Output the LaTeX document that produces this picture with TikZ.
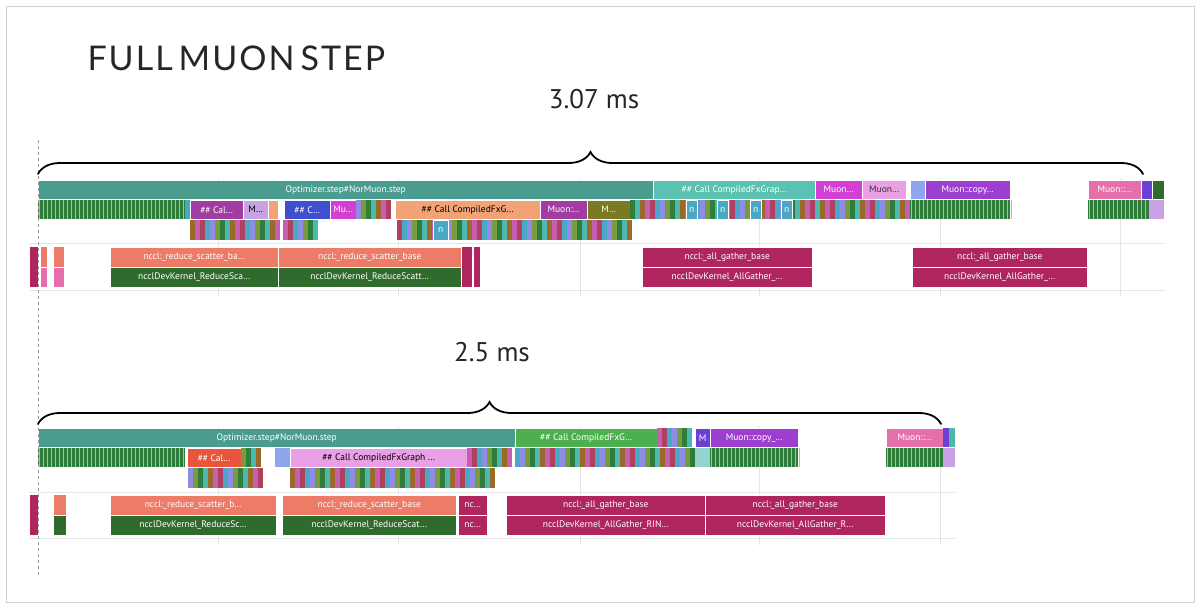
\documentclass[tikz,border=0pt]{standalone}
\usepackage{fontspec}
\setmainfont{PT Sans}
\newfontfamily\titlefont{Lato}
\usetikzlibrary{decorations.pathreplacing}
\definecolor{optc}{HTML}{4A9C8F}
\definecolor{tealc}{HTML}{5BC2B2}
\definecolor{magc}{HTML}{D33FD3}
\definecolor{lpink}{HTML}{E9A0E4}
\definecolor{purc}{HTML}{9C3FCE}
\definecolor{pinkc}{HTML}{E46FAA}
\definecolor{bluec}{HTML}{3F4FD0}
\definecolor{lpur}{HTML}{C8A2E2}
\definecolor{salc}{HTML}{F2A274}
\definecolor{olivc}{HTML}{7A7A22}
\definecolor{callp}{HTML}{A13CA3}
\definecolor{rsc}{HTML}{EE7A68}
\definecolor{dgc}{HTML}{2F6B2C}
\definecolor{crim}{HTML}{B1255E}
\definecolor{greenc}{HTML}{4DB04F}
\definecolor{redc}{HTML}{E8553A}
\definecolor{mpur}{HTML}{6B40D2}
\definecolor{lblue}{HTML}{8FA5EE}
\definecolor{s0}{HTML}{9B6A2A}
\definecolor{s1}{HTML}{4BA8C4}
\definecolor{s2}{HTML}{2F7D3A}
\definecolor{s3}{HTML}{C65FB0}
\definecolor{s4}{HTML}{8D8DE6}
\definecolor{s5}{HTML}{4DB8B0}
\definecolor{s6}{HTML}{B0405F}
\definecolor{s7}{HTML}{7A9A40}
\tikzset{
  bar/.style={draw=white,line width=0.4pt,anchor=north west,inner sep=0pt,text=white,
    font=\fontsize{9.5}{10}\selectfont},
  grid/.style={draw=black!10,line width=0.6pt},
  brc/.style={draw=black,line width=1.8pt,line cap=round,decorate,decoration={brace,amplitude=22pt,raise=0pt}},
}
\newcommand\bx[7]{\node[bar,fill=#6,minimum width={#3pt-#2pt},minimum height={#5pt-#4pt}] (#1) at (#2,#4) {#7};}
\newcommand\gstr[4]{%
  \fill[s2] (#1,#3) rectangle (#2,#4);
  \pgfmathtruncatemacro\nn{(#2-#1)/4}
  \foreach \k in {0,...,\nn}{\draw[draw=green!35!gray!60,line width=0.7pt] ({#1+4*\k+1},#3) -- ({#1+4*\k+1},#4);}}
\newcommand\mstr[5]{%
  \pgfmathtruncatemacro\nn{(#2-#1)/5-1}
  \foreach \k in {0,...,\nn}{\pgfmathtruncatemacro\ci{mod(\k*3+#5,8)}
    \fill[s\ci] ({#1+5*\k},#3) rectangle ({#1+5*\k+5},#4);}}
\begin{document}
\begin{tikzpicture}[x=1pt,y=-1pt]
\useasboundingbox (0,0) rectangle (1200,608);
\fill[white] (0,0) rectangle (1200,608);
\draw[black!18,line width=1pt] (6,6) rectangle (1194,602);
\node[anchor=west,font=\titlefont\fontsize{34}{34}\selectfont,text=black!85] (title) at (84,58) {F\kern2pt U\kern2pt L\kern2pt L\kern6pt M\kern2pt U\kern2pt O\kern2pt N\kern6pt S\kern2pt T\kern2pt E\kern2pt P};
% panel 1 grid
\foreach \gx in {218,398,580,759,940,1120}{\draw[grid] (\gx,178) -- (\gx,296);}
\draw[grid] (30,243) -- (1165,243); \draw[grid] (30,290) -- (1165,290);
% row 1
\bx{opt1}{38}{653}{180}{199}{optc}{Optimizer.step\#NorMuon.step}
\bx{cfx1}{653}{815}{180}{199}{tealc}{\#\# Call CompiledFxGrap…}
\bx{mu1}{815}{862}{180}{199}{magc}{Muon…}
\bx{mu2}{862}{906}{180}{199}{lpink}{\textcolor{black!80}{Muon…}}
\bx{sl1}{910}{925}{180}{199}{lblue}{}
\bx{cp1}{925}{1010}{180}{199}{purc}{Muon::copy…}
\bx{mu3}{1088}{1141}{180}{199}{pinkc}{Muon::…}
\bx{sl2}{1141}{1152}{180}{199}{mpur}{}
\bx{sl3}{1152}{1164}{180}{199}{dgc}{}
% row 2
\gstr{38}{185}{200}{219}
\mstr{185}{190}{200}{219}{1}
\bx{c1}{190}{243}{200}{219}{callp}{\#\# Cal…}
\bx{m1}{243}{268}{200}{219}{lpur}{\textcolor{black}{M…}}
\bx{sa1}{268}{278}{200}{219}{salc}{}
\bx{c2}{284}{330}{200}{219}{bluec}{\#\# C…}
\bx{m2}{330}{356}{200}{219}{magc}{Mu…}
\mstr{356}{395}{200}{219}{4}
\bx{c3}{395}{540}{200}{219}{salc}{\textcolor{black}{\#\# Call CompiledFxG…}}
\bx{m3}{540}{587}{200}{219}{callp}{Muon:…}
\bx{m4}{587}{630}{200}{219}{olivc}{M…}
\mstr{630}{815}{200}{219}{2}
\foreach \nx in {686,717,750,781}{\node[bar,fill=s1,minimum width=11pt,minimum height=19pt] (n\nx) at (\nx,200) {n};}
\mstr{815}{910}{200}{219}{5}
\gstr{910}{1010}{200}{219}
\gstr{1088}{1150}{200}{219}
\fill[lpur] (1150,200) rectangle (1164,219);
% row 3
\mstr{190}{280}{220}{240}{0}
\mstr{283}{322}{220}{240}{3}
\mstr{397}{632}{220}{240}{6}
\node[bar,fill=s1,minimum width=15pt,minimum height=20pt] (nn1) at (433,220) {n};
% rows 4-5
\fill[crim] (30,247) rectangle (38,287);
\fill[rsc] (41,247) rectangle (47,267); \fill[pinkc] (41,268) rectangle (47,287);
\fill[rsc] (54,247) rectangle (64,267); \fill[pinkc] (54,268) rectangle (64,287);
\bx{rs1}{110}{278}{247}{267}{rsc}{nccl:\_reduce\_scatter\_ba…}
\bx{rs2}{278}{461}{247}{267}{rsc}{nccl:\_reduce\_scatter\_base}
\bx{rk1}{110}{278}{267}{287}{dgc}{ncclDevKernel\_ReduceSca…}
\bx{rk2}{278}{461}{267}{287}{dgc}{ncclDevKernel\_ReduceScatt…}
\fill[crim] (462,247) rectangle (472,287); \fill[crim] (474,247) rectangle (480,287);
\bx{ag1}{642}{812}{247}{267}{crim}{nccl:\_all\_gather\_base}
\bx{ak1}{642}{812}{267}{287}{crim}{ncclDevKernel\_AllGather\_…}
\bx{ag2}{912}{1087}{247}{267}{crim}{nccl:\_all\_gather\_base}
\bx{ak2}{912}{1087}{267}{287}{crim}{ncclDevKernel\_AllGather\_…}
% panel 2 grid
\foreach \gx in {218,398,580,759,940}{\draw[grid] (\gx,426) -- (\gx,545);}
\draw[grid] (30,492) -- (955,492); \draw[grid] (30,538) -- (955,538);
% row 1
\bx{opt2}{38}{515}{428}{447}{optc}{Optimizer.step\#NorMuon.step}
\bx{cfx2}{515}{657}{428}{447}{greenc}{\#\# Call CompiledFxG…}
\mstr{657}{695}{428}{447}{3}
\bx{mm}{695}{710}{428}{447}{mpur}{M}
\bx{cp2}{710}{798}{428}{447}{purc}{Muon::copy\_…}
\bx{mu5}{886}{943}{428}{447}{pinkc}{Muon::…}
\fill[mpur] (943,428) rectangle (949,447); \fill[s5] (949,428) rectangle (955,447);
% row 2
\gstr{38}{185}{448}{467}
\bx{c5}{187}{241}{448}{467}{redc}{\#\# Cal…}
\mstr{241}{262}{448}{467}{7}
\fill[lblue] (275,448) rectangle (290,467);
\bx{c6}{290}{467}{448}{467}{lpink}{\textcolor{black}{\#\# Call CompiledFxGraph …}}
\mstr{467}{515}{448}{467}{3}
\mstr{515}{695}{448}{467}{1}
\fill[s5!60] (695,448) rectangle (710,467);
\gstr{710}{798}{448}{467}
\gstr{886}{943}{448}{467}
\fill[lpur] (943,448) rectangle (955,467);
% row 3
\mstr{188}{263}{468}{488}{4}
\mstr{290}{497}{468}{488}{0}
% rows 4-5
\fill[crim] (30,495) rectangle (38,535);
\fill[rsc] (54,495) rectangle (66,515); \fill[dgc] (54,516) rectangle (66,535);
\bx{rs3}{110}{276}{495}{515}{rsc}{nccl:\_reduce\_scatter\_b…}
\bx{rs4}{282}{456}{495}{515}{rsc}{nccl:\_reduce\_scatter\_base}
\bx{nc1}{458}{487}{495}{515}{crim}{nc…}
\bx{rk3}{110}{276}{515}{535}{dgc}{ncclDevKernel\_ReduceSc…}
\bx{rk4}{282}{456}{515}{535}{dgc}{ncclDevKernel\_ReduceScat…}
\bx{nc2}{458}{487}{515}{535}{crim}{nc…}
\bx{ag3}{506}{705}{495}{515}{crim}{nccl:\_all\_gather\_base}
\bx{ak3}{506}{705}{515}{535}{crim}{ncclDevKernel\_AllGather\_RIN…}
\bx{ag4}{705}{885}{495}{515}{crim}{nccl:\_all\_gather\_base}
\bx{ak4}{705}{885}{515}{535}{crim}{ncclDevKernel\_AllGather\_R…}
% dashed marker line
\draw[black!40,dashed,line width=0.8pt] (38,140) coordinate (d1) -- (38,578) coordinate (d2);
% braces
\coordinate (b1l) at (38,174); \coordinate (b1r) at (1143,174);
\draw[brc] (b1l) -- (b1r);
\node[font=\fontsize{27}{27}\selectfont,text=black!85] (t1) at (594,99) {3.07 ms};
\coordinate (b2l) at (38,424); \coordinate (b2r) at (941,424);
\draw[brc] (b2l) -- (b2r);
\node[font=\fontsize{27}{27}\selectfont,text=black!85] (t2) at (492,352) {2.5 ms};
\end{tikzpicture}
\end{document}
